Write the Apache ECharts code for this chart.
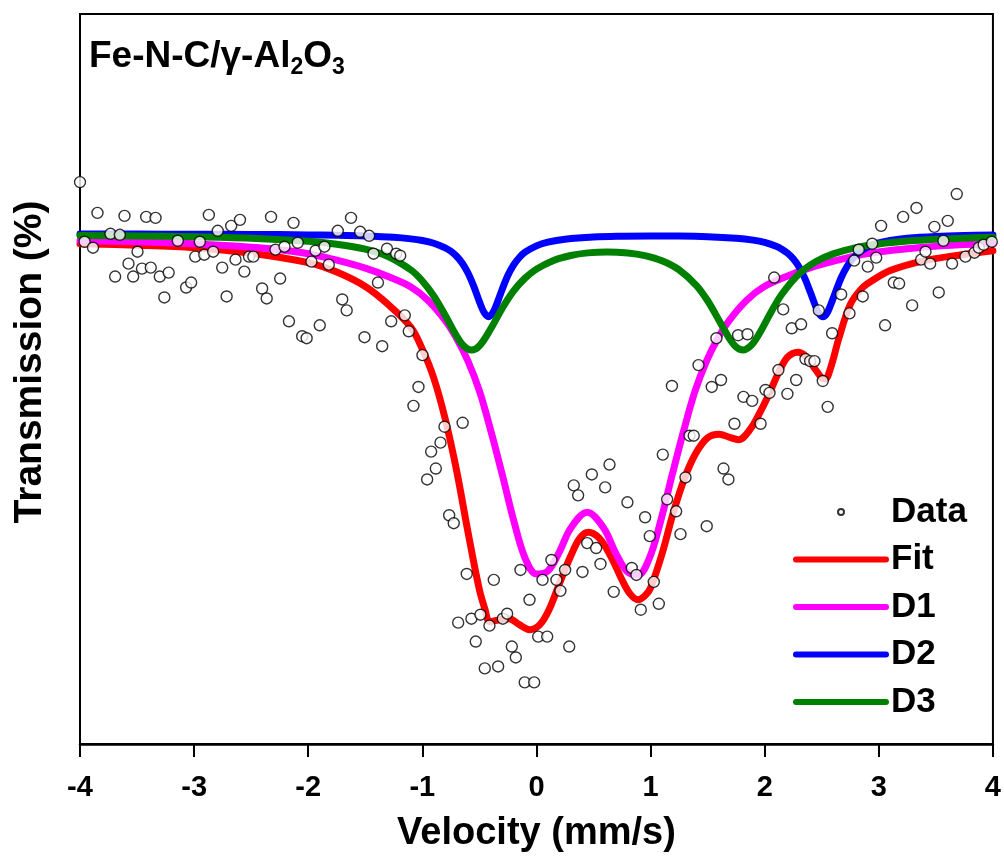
<!DOCTYPE html>
<html><head><meta charset="utf-8">
<script src="https://cdn.jsdelivr.net/npm/echarts@6/dist/echarts.min.js"></script>
<style>html,body{margin:0;padding:0;background:#fff}#c{width:1004px;height:858px}</style>
</head><body><div id="c"></div>
<script>
// ---- data ----
const xTicks = [-4, -3, -2, -1, 0, 1, 2, 3, 4];

const dataV = [-4.00,-3.96,-3.886,-3.847,-3.733,-3.692,-3.651,-3.61,-3.575,-3.534,
-3.496,-3.457,-3.42,-3.38,-3.338,-3.301,-3.261,-3.223,-3.143,-3.07,
-3.026,-2.99,-2.95,-2.911,-2.871,-2.833,-2.793,-2.754,-2.715,-2.675,
-2.637,-2.598,-2.56,-2.519,-2.481,-2.404,-2.364,-2.326,-2.287,-2.246,
-2.208,-2.169,-2.129,-2.092,-2.053,-2.014,-1.972,-1.936,-1.899,-1.858,
-1.82,-1.741,-1.702,-1.663,-1.625,-1.545,-1.507,-1.466,-1.428,-1.389,
-1.352,-1.31,-1.273,-1.229,-1.194,-1.154,-1.119,-1.078,-1.034,-0.999,
-0.958,-0.923,-0.882,-0.841,-0.806,-0.765,-0.725,-0.686,-0.647,-0.611,
-0.57,-0.532,-0.491,-0.453,-0.412,-0.374,-0.336,-0.295,-0.257,-0.216,
-0.181,-0.14,-0.103,-0.061,-0.02,0.015,0.053,0.094,0.131,0.175,
0.21,0.251,0.287,0.327,0.365,0.403,0.444,0.485,0.523,0.561,
0.602,0.64,0.677,0.797,0.835,0.876,0.914,0.952,0.993,1.028,
1.072,1.107,1.145,1.187,1.224,1.262,1.306,1.341,1.378,1.42,
1.492,1.536,1.577,1.617,1.639,1.682,1.735,1.767,1.814,1.849,1.89,1.964,
2.007,2.042,2.083,2.12,2.162,2.199,2.237,2.276,2.319,2.357,
2.398,2.436,2.474,2.509,2.552,2.591,2.67,2.743,2.784,2.824,
2.859,2.903,2.942,2.977,3.02,3.055,3.131,3.178,3.213,3.292,
3.33,3.371,3.409,3.45,3.487,3.525,3.566,3.604,3.642,3.683,
3.759,3.838,3.876,3.919,3.99];
const dataT = [100.52,99.92,99.86,100.21,100.00,99.57,99.99,100.18,99.70,99.57,
99.82,99.65,100.17,99.66,100.16,99.57,99.36,99.61,99.93,99.46,
99.51,99.77,99.92,99.79,100.19,99.82,100.03,99.66,99.37,100.08,
99.74,100.14,99.62,99.77,99.77,99.45,99.35,100.17,99.84,99.55,
99.87,99.12,100.11,99.91,98.97,98.95,99.72,99.83,99.08,99.87,
99.69,100.03,99.34,99.23,100.16,100.02,98.96,99.98,99.80,99.51,
98.87,99.85,99.12,99.80,99.78,99.18,99.02,98.27,98.46,98.78,
97.53,97.81,97.64,97.90,98.06,97.17,97.09,96.09,98.10,96.58,
96.13,95.90,96.17,95.63,96.06,96.52,95.65,96.13,96.18,95.85,
95.74,96.62,95.49,96.32,95.49,95.95,96.52,95.95,96.72,96.52,
96.41,96.62,95.85,97.47,97.37,96.60,96.89,97.58,96.84,96.68,
97.45,97.68,96.40,97.30,96.64,96.57,96.22,97.15,96.96,96.50,
96.28,97.78,97.33,98.47,97.21,96.98,97.55,97.97,97.97,98.68,
97.06,98.46,98.95,98.53,97.64,97.53,98.09,98.98,98.36,98.99,98.32,98.09,
98.43,98.40,99.56,98.63,99.24,98.39,99.05,98.53,99.09,98.74,
98.72,98.72,99.23,98.52,98.26,99.00,99.39,99.20,99.73,99.84,
99.37,99.67,99.90,99.76,100.08,99.08,99.51,99.50,100.17,99.28,
100.26,99.74,99.82,99.70,100.07,99.41,99.93,100.13,99.70,100.40,
99.77,99.81,99.86,99.89,99.92];

const fitV = [-4.0,-3.5,-3.0,-2.5,-2.0,-1.75,-1.5,-1.3,-1.1,-1.0,-0.9,-0.8,-0.7,-0.6,-0.5,-0.45,-0.41,-0.32,-0.24,-0.15,-0.06,0.03,0.11,0.2,0.3,0.38,0.455,0.55,0.65,0.75,0.82,0.89,0.95,1.0,1.1,1.2,1.3,1.4,1.5,1.6,1.7,1.77,1.87,1.97,2.05,2.12,2.2,2.29,2.36,2.43,2.5,2.53,2.58,2.65,2.75,2.85,2.93,3.1,3.4,3.7,4.0];
const fitT = [99.90,99.885,99.86,99.805,99.71,99.615,99.47,99.29,99.06,98.84,98.55,98.14,97.62,97.00,96.42,96.22,96.10,96.12,96.13,96.07,96.02,96.07,96.22,96.48,96.76,96.94,97.00,96.94,96.76,96.52,96.38,96.32,96.36,96.44,96.78,97.20,97.55,97.80,97.95,97.985,97.95,97.93,98.03,98.23,98.42,98.60,98.76,98.81,98.77,98.66,98.55,98.54,98.66,98.95,99.29,99.45,99.52,99.63,99.73,99.785,99.83];

const d1V = [-4.0,-3.5,-3.0,-2.5,-2.25,-2.0,-1.75,-1.5,-1.3,-1.1,-0.95,-0.8,-0.7,-0.6,-0.5,-0.4,-0.3,-0.2,-0.1,0.0,0.1,0.2,0.3,0.445,0.59,0.69,0.79,0.89,0.99,1.09,1.19,1.29,1.39,1.49,1.59,1.69,1.84,1.99,2.19,2.39,2.64,2.89,3.39,3.89,4.0];
const d1T = [99.93,99.92,99.90,99.865,99.84,99.80,99.735,99.655,99.57,99.465,99.33,99.13,98.95,98.72,98.42,98.02,97.58,97.12,96.74,96.58,96.61,96.80,97.04,97.20,97.04,96.80,96.61,96.57,96.74,97.12,97.58,98.02,98.42,98.72,98.95,99.13,99.33,99.465,99.57,99.655,99.735,99.80,99.865,99.90,99.905];

const d2V = [-4.0,-3.5,-3.0,-2.5,-2.0,-1.75,-1.5,-1.25,-1.1,-1.0,-0.9,-0.8,-0.75,-0.7,-0.65,-0.6,-0.55,-0.5,-0.46,-0.42,-0.38,-0.34,-0.3,-0.25,-0.2,-0.15,-0.1,0.0,0.1,0.25,0.5,0.75,1.0,1.25,1.5,1.75,1.9,2.0,2.1,2.15,2.2,2.25,2.3,2.35,2.4,2.45,2.48,2.51,2.54,2.57,2.62,2.67,2.72,2.77,2.82,2.9,3.0,3.1,3.25,3.5,3.75,4.0];
const d2T = [99.998,99.997,99.996,99.994,99.989,99.985,99.978,99.965,99.949,99.932,99.905,99.859,99.824,99.774,99.704,99.606,99.474,99.318,99.211,99.167,99.211,99.318,99.443,99.583,99.687,99.762,99.815,99.879,99.916,99.945,99.967,99.975,99.978,99.977,99.971,99.955,99.936,99.913,99.875,99.845,99.805,99.748,99.668,99.557,99.412,99.259,99.192,99.167,99.192,99.262,99.412,99.558,99.669,99.748,99.805,99.865,99.908,99.934,99.956,99.974,99.983,99.987];

const d3V = [-4.0,-3.5,-3.0,-2.5,-2.0,-1.75,-1.5,-1.3,-1.1,-1.0,-0.9,-0.8,-0.7,-0.64,-0.57,-0.5,-0.4,-0.3,-0.2,-0.1,0.0,0.15,0.3,0.45,0.62,0.8,0.95,1.1,1.25,1.4,1.5,1.6,1.7,1.75,1.81,1.88,1.95,2.05,2.15,2.3,2.45,2.6,2.8,3.0,3.25,3.5,3.75,4.0];
const d3T = [99.982,99.977,99.970,99.955,99.925,99.895,99.845,99.772,99.636,99.526,99.375,99.180,98.972,98.876,98.831,98.873,99.046,99.252,99.426,99.554,99.645,99.732,99.782,99.808,99.818,99.807,99.780,99.728,99.637,99.482,99.327,99.129,98.931,98.862,98.831,98.876,98.991,99.201,99.392,99.596,99.721,99.798,99.861,99.898,99.927,99.945,99.956,99.965];

const legendNames = ['Data', 'Fit', 'D1', 'D2', 'D3'];

// ---- chart ----
function pairs(a, b) { return a.map((v, i) => [v, b[i]]); }
const FONT = '"Liberation Sans", Arial, Helvetica, sans-serif';
const chart = echarts.init(document.getElementById('c'), null, { renderer: 'canvas' });

const lineSeries = (name, v, t, color) => ({
  name, type: 'line', data: pairs(v, t), showSymbol: false, symbol: 'none',
  smooth: 0.35, clip: true,
  lineStyle: { color, width: 7, cap: 'round', join: 'round' },
  itemStyle: { color }, z: 2
});

chart.setOption({
  animation: false,
  backgroundColor: '#ffffff',
  title: {
    text: '{a|Fe-N-C/γ-Al}{s|2}{a|O}{s|3}',
    left: 84, top: 30,
    textStyle: {
      rich: {
        a: { fontFamily: FONT, fontSize: 37, fontWeight: 'bold', color: '#000', lineHeight: 44 },
        s: { fontFamily: FONT, fontSize: 23, fontWeight: 'bold', color: '#000', lineHeight: 13, verticalAlign: 'bottom' }
      }
    }
  },
  grid: { left: 80, right: 11, top: 14, bottom: 110, show: true, borderColor: '#000', borderWidth: 2, backgroundColor: 'transparent' },
  xAxis: {
    type: 'value', min: xTicks[0], max: xTicks[xTicks.length - 1], interval: 1,
    axisLine: { show: true, onZero: false, lineStyle: { color: '#000', width: 2.5 } },
    axisTick: { show: true, inside: false, length: 13, lineStyle: { color: '#000', width: 2 } },
    axisLabel: { margin: 29, color: '#000', fontFamily: FONT, fontWeight: 'bold', fontSize: 29 },
    splitLine: { show: false },
    name: 'Velocity (mm/s)', nameLocation: 'middle', nameGap: 71,
    nameTextStyle: { color: '#000', fontFamily: FONT, fontWeight: 'bold', fontSize: 38 }
  },
  yAxis: {
    type: 'value', min: 94.87, max: 102.21,
    axisLine: { show: true, onZero: false, lineStyle: { color: '#000', width: 2 } },
    axisTick: { show: false }, axisLabel: { show: false }, splitLine: { show: false },
    name: 'Transmission (%)', nameLocation: 'middle', nameGap: 30,
    nameTextStyle: { color: '#000', fontFamily: FONT, fontWeight: 'bold', fontSize: 39, padding: [0, 0, 0, 34] }
  },
  legend: {
    data: legendNames, orient: 'vertical', left: 793, top: 494, padding: 0,
    itemWidth: 90, itemHeight: 6, itemGap: 11.5,
    lineStyle: { width: 6, cap: 'round' },
    textStyle: { color: '#000', fontFamily: FONT, fontWeight: 'bold', fontSize: 35, lineHeight: 36 },
    selectedMode: false
  },
  series: [
    {
      name: 'Data', type: 'scatter', data: pairs(dataV, dataT), symbol: 'circle', symbolSize: 11,
      itemStyle: { color: '#ffffff', borderColor: '#000', borderWidth: 1.4 }, z: 5, clip: true
    },
    lineSeries('Fit', fitV, fitT, '#ff0000'),
    lineSeries('D1', d1V, d1T, '#ff00ff'),
    lineSeries('D2', d2V, d2T, '#0000ff'),
    lineSeries('D3', d3V, d3T, '#008000')
  ]
});
</script>
</body></html>
